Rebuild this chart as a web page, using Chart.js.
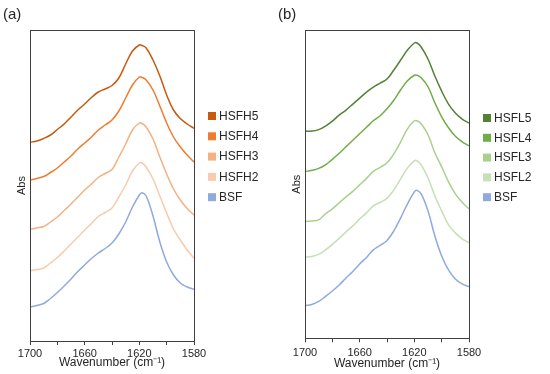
<!DOCTYPE html>
<html>
<head>
<meta charset="utf-8">
<script src="https://cdn.jsdelivr.net/npm/chart.js@4"></script>
<style>
  body { margin: 0; background: #fff; }
  .panel { position: absolute; top: 0; width: 275px; height: 374px; }
</style>
</head>
<body>
<div class="panel" style="left:0"><canvas id="chartA" width="275" height="374"></canvas></div>
<div class="panel" style="left:275px"><canvas id="chartB" width="275" height="374"></canvas></div>
<script>
// wavenumber (cm-1)
const wavenumbers = [1700, 1695, 1690, 1685, 1680, 1675, 1670, 1665, 1660, 1655, 1650, 1645, 1640,
  1635, 1630, 1625, 1620, 1618, 1615, 1610, 1605, 1600, 1595, 1590, 1585, 1580];
const xTicks = [1700, 1660, 1620, 1580];

// panel (a), offset spectra (arbitrary units)
const namesA = ["HSFH5", "HSFH4", "HSFH3", "HSFH2", "BSF"];
const hsfh5 = [198.7, 200, 202.5, 206, 211.5, 217, 224, 231, 237, 243.5, 249, 252, 255.5, 263, 277, 290, 296, 295.5, 293, 281, 265, 246, 231, 222.5, 217, 212.7];
const hsfh4 = [161, 162.5, 164.5, 168.5, 173, 179, 185, 192, 198, 204, 211, 216, 221, 230, 243, 256, 264, 263.5, 261, 251, 235, 218, 204, 194, 186, 179];
const hsfh3 = [111.7, 113, 114.5, 119, 124, 130.5, 137, 144, 151, 157, 163.5, 167.5, 171.5, 184, 197, 211, 218, 217.5, 214, 202, 184, 167, 152, 141, 132.5, 126];
const hsfh2 = [70.3, 71.5, 73, 78, 83.5, 90, 97, 104, 111, 117.5, 124.5, 128.5, 133, 144, 156, 170, 178, 178, 174, 162, 145, 128, 112, 101, 91, 82.7];
const bsfA = [34, 35.5, 37.5, 42.5, 48.5, 55, 62, 69.5, 76, 82.5, 88, 92.5, 98, 107, 119, 134, 146, 148.3, 145, 125, 99, 79, 66, 58, 54, 51.7];

// panel (b)
const namesB = ["HSFL5", "HSFL4", "HSFL3", "HSFL2", "BSF"];
const hsfl5 = [207, 207, 208.5, 212, 217, 223, 228, 234, 240, 246, 251, 255, 259, 268, 278, 288, 295, 295, 291, 279, 262, 247, 234, 225, 219, 215];
const hsfl4 = [166.6, 167.8, 169.8, 173.3, 178.8, 184.8, 191.3, 197.8, 204.3, 210.8, 217.3, 222.3, 229.3, 237.8, 248.3, 257.3, 262.8, 262.8, 260.3, 251.3, 235.3, 221.3, 210.3, 201.8, 196.3, 192.3];
const hsfl3 = [116.6, 117.3, 118.3, 124.3, 129.3, 135.3, 141.3, 146.8, 153.3, 159.8, 166.8, 170.8, 175.3, 184.3, 196.3, 209.3, 217.3, 217.3, 214.3, 203.3, 185.3, 171.3, 156.3, 144.3, 135.8, 129.3];
const hsfl2 = [81, 81.8, 83.8, 88.3, 93.8, 99.8, 106.3, 112.3, 119.3, 125.3, 132.3, 135.8, 139.8, 148.3, 159.3, 170.3, 177.3, 177.3, 173.3, 160.3, 142.3, 127.3, 113.3, 105.3, 99.3, 95.6];
const bsfB = [32.8, 33.8, 36.8, 41.8, 47.3, 53.3, 60.3, 66.8, 74.3, 80.8, 88.3, 92.8, 97.8, 107.3, 120.3, 134.3, 146.3, 147.8, 144.3, 127.3, 102.3, 82.3, 68.3, 59.3, 54.3, 51.6];

const colorsA = ["#C55A11", "#ED7D31", "#F4B183", "#F8CBAD", "#8FAADC"];
const colorsB = ["#548235", "#70AD47", "#A9D18E", "#C5E0B4", "#8FAADC"];

const FONT = "'Liberation Sans', Arial, sans-serif";
const TEXT = "#262626";

// box round the plot + the square legend on the right
const panelDecor = {
  id: "panelDecor",
  afterDraw(chart, args, opts) {
    const ctx = chart.ctx;
    const a = chart.chartArea;
    ctx.save();
    ctx.strokeStyle = "#404040";
    ctx.lineWidth = 1;
    ctx.strokeRect(Math.round(a.left) + 0.5, Math.round(a.top) + 0.5,
      Math.round(a.right - a.left), Math.round(a.bottom - a.top));
    ctx.font = "12px " + FONT;
    ctx.textBaseline = "middle";
    chart.data.datasets.forEach((ds, i) => {
      const y = opts.top + i * opts.gap;
      const x = a.right + opts.offset;
      ctx.fillStyle = ds.borderColor;
      ctx.fillRect(x, y - 4, 8, 8);
      ctx.fillStyle = TEXT;
      ctx.fillText(ds.label, x + 11, y + 0.5);
    });
    ctx.restore();
  }
};

function makeChart(id, tag, names, series, colors, cfg) {
  const datasets = series.map((vals, i) => ({
    label: names[i],
    data: vals.map((v, j) => ({ x: wavenumbers[j], y: v })),
    borderColor: colors[i],
    backgroundColor: colors[i],
    borderWidth: 1.5,
    pointRadius: 0,
    tension: 0.4,
    fill: false
  }));
  return new Chart(document.getElementById(id), {
    type: "line",
    data: { datasets },
    plugins: [panelDecor],
    options: {
      responsive: false,
      animation: false,
      events: [],
      layout: { padding: { left: 3, right: cfg.right, top: 0, bottom: cfg.bottom } },
      plugins: {
        legend: { display: false },
        tooltip: { enabled: false },
        title: {
          display: true, text: tag, align: "start",
          color: TEXT, font: { family: FONT, size: 15, weight: "normal" },
          padding: { top: 6, bottom: 6 }
        },
        panelDecor: { top: cfg.legendTop, gap: cfg.legendGap, offset: 14 }
      },
      scales: {
        x: {
          type: "linear", reverse: true, min: 1580, max: 1700,
          border: { display: false },
          grid: { drawOnChartArea: false, tickLength: 4, color: "#404040" },
          ticks: {
            stepSize: 20, padding: cfg.tickPad, maxRotation: 0, autoSkip: false,
            color: TEXT, font: { family: FONT, size: 11 },
            callback: v => xTicks.includes(v) ? String(v) : ""
          },
          title: {
            display: true, text: "Wavenumber (cm\u207B\u00B9)", color: TEXT,
            font: { family: FONT, size: 12 }, padding: { top: cfg.titlePad, bottom: 0 }
          }
        },
        y: {
          min: 0, max: cfg.yMax,
          border: { display: false },
          grid: { display: false, drawTicks: false },
          ticks: { display: false },
          title: {
            display: true, text: "Abs", color: TEXT,
            font: { family: FONT, size: 11 }, padding: { top: 12.4, bottom: 1.4 }
          }
        }
      }
    }
  });
}

makeChart("chartA", "(a)", namesA, [hsfh5, hsfh4, hsfh3, hsfh2, bsfA], colorsA,
  { right: 81, bottom: 4.3, tickPad: 2, titlePad: -6.9, yMax: 311, legendTop: 116, legendGap: 20.3 });
makeChart("chartB", "(b)", namesB, [hsfl5, hsfl4, hsfl3, hsfl2, bsfB], colorsB,
  { right: 81, bottom: 2.8, tickPad: 3.6, titlePad: -5.9, yMax: 308, legendTop: 118, legendGap: 19.8 });
</script>
</body>
</html>
